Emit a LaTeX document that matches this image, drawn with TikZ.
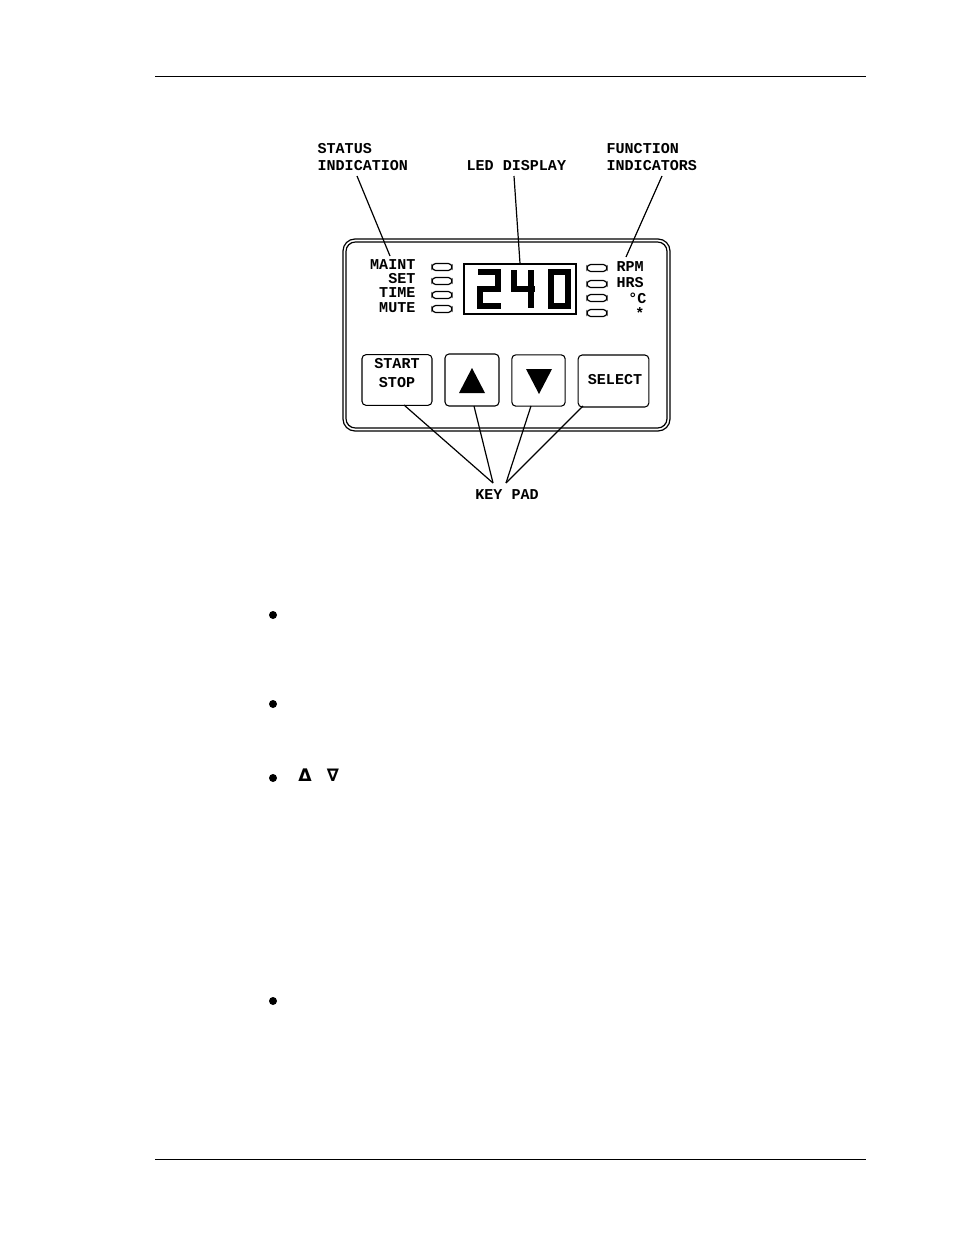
\documentclass[tikz,border=0pt]{standalone}
\usepackage{fontspec}
\setmonofont{Liberation Mono}
\newfontfamily\symfont{DejaVu Sans}
\begin{document}
\begin{tikzpicture}[x=0.75pt,y=-0.75pt,line width=0.9pt,
  lbl/.style={font=\ttfamily\bfseries\fontsize{11.3}{12}\selectfont,inner sep=0pt},
  led/.style={draw,rounded corners=2.8pt,line width=0.9pt},
  key/.style={draw,rounded corners=3pt,line width=0.8pt},
  seg/.style={line width=4.3pt,line cap=butt,line join=miter}]
\useasboundingbox (0,0) rectangle (954,1235);
\draw[line width=0.6pt] (155,76) -- (866,76);
\draw[line width=0.6pt] (155,1159) -- (866,1159);
% panel
\draw[rounded corners=9pt] (343,239) rectangle (670,431);
\draw[rounded corners=7pt] (346,242) rectangle (667,428);
\node[draw,minimum width=84pt,minimum height=37.5pt,line width=0.8pt,inner sep=0pt] (disp) at (520,289) {};
% digits
\draw[seg] (478,272) -- (498,272) -- (498,289) -- (480,289) -- (480,306) -- (501,306);
\draw[seg] (514,270) -- (514,289) -- (535,289);
\draw[seg] (531,270) -- (531,308);
\draw[seg] (551,272) rectangle (568,306);
% leds
\foreach \y in {267,281,295,309} \draw[led] (432,\y-3.5) rectangle (452,\y+3.5);
\foreach \y in {268,284,298,313} \draw[led] (587,\y-3.5) rectangle (607,\y+3.5);
\node[lbl,anchor=east] (maint) at (416,265) {MAINT};
\node[lbl,anchor=east] at (416,279) {SET};
\node[lbl,anchor=east] at (416,293) {TIME};
\node[lbl,anchor=east] at (416,308) {MUTE};
\node[lbl,anchor=west] (rpm) at (616,267) {RPM};
\node[lbl,anchor=west] at (616,283) {HRS};
\node[lbl,anchor=east] at (647,298) {°C};
\node[lbl,anchor=east] at (645,313) {*};
% keys
\node[key,minimum width=52.5pt,minimum height=38pt] (ss) at (397,380) {};
\node[lbl,align=center] at (397,373) {START\\[2pt]STOP};
\node[key,minimum width=40.5pt,minimum height=39pt] (up) at (472,380) {};
\fill (459,393) -- (485,393) -- (472,368) -- cycle;
\node[key,minimum width=40pt,minimum height=38.5pt] (dn) at (538.5,380.5) {};
\fill (526,369) -- (552,369) -- (539,394) -- cycle;
\node[key,minimum width=53pt,minimum height=39pt] (sel) at (613.5,381) {};
\node[lbl] at (615,380) {SELECT};
% labels
\node[lbl,anchor=west,align=left] (stat) at (317,157) {STATUS\\[1pt]INDICATION};
\node[lbl,anchor=west] (ledl) at (466,166) {LED DISPLAY};
\node[lbl,anchor=west,align=left] (func) at (606,157) {FUNCTION\\[1pt]INDICATORS};
\node[lbl] (kp) at (507,495) {KEY PAD};
\coordinate (kl) at (493,483); \coordinate (kr) at (506,483);
\draw (357,176) -- (390,256);
\draw (514,176) -- (disp.north);
\draw (662,176) -- (626,257);
\draw (kl) -- (404,405); \draw (kl) -- (474,406);
\draw (kr) -- (531,406); \draw (kr) -- (583,406);
% bullets
\foreach \y in {615,704,778,1001} \fill (273,\y) circle (3pt);
\node[font=\symfont\bfseries\fontsize{13}{14}\selectfont,inner sep=0pt] at (305,775) {Δ};
\node[font=\symfont\bfseries\fontsize{13}{14}\selectfont,inner sep=0pt] at (333,775) {∇};
\end{tikzpicture}
\end{document}
